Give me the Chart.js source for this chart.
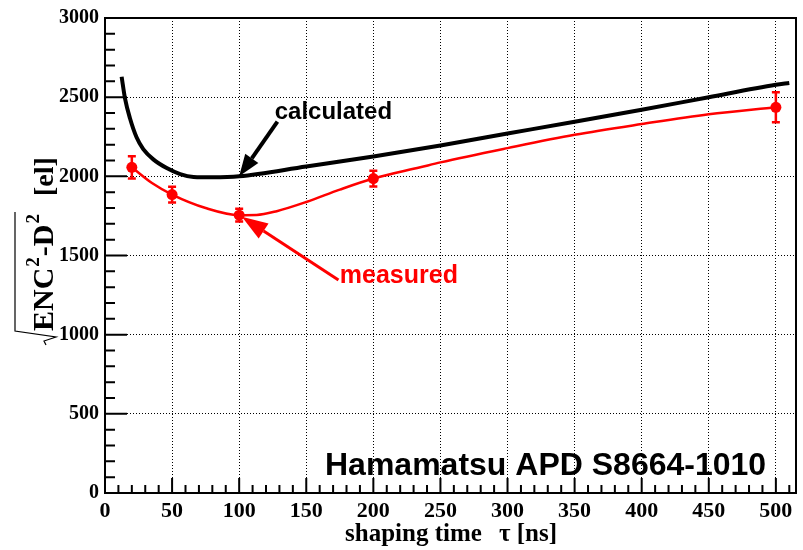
<!DOCTYPE html>
<html>
<head>
<meta charset="utf-8">
<title>ENC vs shaping time</title>
<script src="https://cdn.jsdelivr.net/npm/chart.js"></script>
<style>
  body { margin: 0; background: #fff; }
  canvas { display: block; }
</style>
</head>
<body>
<canvas id="enc-chart" width="803" height="550"></canvas>
<script>
// calculated curve (ns, electrons)
var calcX = [12.4, 14.9, 18.6, 23.6, 28.5, 36, 46, 56, 66, 80, 100, 150, 200, 250, 300, 350, 400, 450, 500, 510];
var calcY = [2629, 2492, 2367, 2245, 2172, 2107, 2052, 2014, 1996, 1994, 2000, 2062, 2125, 2195, 2270, 2345, 2420, 2500, 2578, 2590];

// measured points with errors
var measX = [20, 50, 100, 200, 500];
var measY = [2057, 1885, 1755, 1986, 2436];
var measErr = [70, 50, 40, 50, 95];

// smooth line drawn through the measured points
var trendX = [20, 35, 50, 75, 100, 113, 128, 150, 175, 200, 235, 250, 300, 350, 400, 450, 500];
var trendY = [2057, 1958, 1885, 1800, 1755, 1756, 1780, 1838, 1916, 1986, 2057, 2088, 2178, 2262, 2330, 2392, 2436];

var xTicks = [0, 50, 100, 150, 200, 250, 300, 350, 400, 450, 500];
var yTicks = [0, 500, 1000, 1500, 2000, 2500, 3000];

var serif = "'Liberation Serif', 'Times New Roman', serif";
var sans = "'Liberation Sans', Arial, Helvetica, sans-serif";

function toPoints(xs, ys) {
  var pts = [];
  for (var i = 0; i < xs.length; i++) pts.push({x: xs[i], y: ys[i]});
  return pts;
}

function arrow(ctx, x1, y1, x2, y2, len, half, color, width) {
  var a = Math.atan2(y2 - y1, x2 - x1);
  var bx = x2 - len * Math.cos(a), by = y2 - len * Math.sin(a);
  ctx.strokeStyle = color;
  ctx.fillStyle = color;
  ctx.lineWidth = width;
  ctx.beginPath();
  ctx.moveTo(x1, y1);
  ctx.lineTo(bx, by);
  ctx.stroke();
  ctx.beginPath();
  ctx.moveTo(x2, y2);
  ctx.lineTo(bx + half * Math.sin(a), by - half * Math.cos(a));
  ctx.lineTo(bx - half * Math.sin(a), by + half * Math.cos(a));
  ctx.closePath();
  ctx.fill();
}

// error bars on the measured set
var errorBars = {
  id: 'errorBars',
  afterDatasetsDraw: function(chart) {
    var ctx = chart.ctx, xs = chart.scales.x, ys = chart.scales.y;
    ctx.save();
    ctx.strokeStyle = '#ff0000';
    ctx.lineWidth = 2.5;
    for (var i = 0; i < measX.length; i++) {
      var px = xs.getPixelForValue(measX[i]);
      var top = ys.getPixelForValue(measY[i] + measErr[i]);
      var bot = ys.getPixelForValue(measY[i] - measErr[i]);
      ctx.beginPath();
      ctx.moveTo(px, top); ctx.lineTo(px, bot);
      ctx.moveTo(px - 4, top); ctx.lineTo(px + 4, top);
      ctx.moveTo(px - 4, bot); ctx.lineTo(px + 4, bot);
      ctx.stroke();
    }
    ctx.restore();
  }
};

// frame, inward ticks, axis titles and labels
var decorations = {
  id: 'decorations',
  afterDraw: function(chart) {
    var ctx = chart.ctx, a = chart.chartArea;
    var xs = chart.scales.x, ys = chart.scales.y;
    ctx.save();
    ctx.strokeStyle = '#000';
    ctx.lineWidth = 2;
    ctx.beginPath();
    ctx.moveTo(a.left, a.top); ctx.lineTo(a.right, a.top); ctx.lineTo(a.right, a.bottom);
    ctx.stroke();

    ctx.beginPath();
    for (var v = 0; v <= 3000; v += 100) {
      var py = ys.getPixelForValue(v);
      ctx.moveTo(a.left, py);
      ctx.lineTo(a.left + (v % 500 === 0 ? 22 : 10), py);
    }
    for (var u = 0; u <= 510; u += 10) {
      var px = xs.getPixelForValue(u);
      ctx.moveTo(px, a.bottom);
      ctx.lineTo(px, a.bottom - (u % 50 === 0 ? 15 : 8));
    }
    ctx.stroke();

    // x title
    ctx.fillStyle = '#000';
    ctx.font = 'bold 25px ' + serif;
    ctx.textAlign = 'left';
    ctx.textBaseline = 'alphabetic';
    ctx.fillText('shaping time', 345, 541);
    ctx.fillText('\u03c4 [ns]', 499, 541);

    // y title: sqrt(ENC^2-D^2) [el]
    ctx.save();
    ctx.translate(53, 331);
    ctx.rotate(-Math.PI / 2);
    var u0 = 0;
    ctx.font = 'bold 30px ' + serif;
    ctx.fillText('ENC', u0, 0); u0 += ctx.measureText('ENC').width + 1;
    ctx.font = 'bold 19px ' + serif;
    ctx.fillText('2', u0, -14); u0 += ctx.measureText('2').width + 1;
    ctx.font = 'bold 30px ' + serif;
    ctx.fillText('-D', u0, 0); u0 += ctx.measureText('-D').width + 1;
    ctx.font = 'bold 19px ' + serif;
    ctx.fillText('2', u0, -14); u0 += ctx.measureText('2').width + 2;
    ctx.lineWidth = 1.2;
    ctx.beginPath();
    ctx.moveTo(u0, -38);
    ctx.lineTo(0, -38);
    ctx.lineTo(-6, 3);
    ctx.lineTo(-10, -9);
    ctx.lineTo(-14, -7);
    ctx.stroke();
    ctx.font = 'bold 28px ' + serif;
    ctx.fillText('[el]', u0 + 16, 0);
    ctx.restore();

    // annotations
    arrow(ctx, xs.getPixelForValue(128.5), ys.getPixelForValue(2345),
      xs.getPixelForValue(100), ys.getPixelForValue(2000), 22, 8, '#000', 4);
    arrow(ctx, xs.getPixelForValue(174), ys.getPixelForValue(1345),
      xs.getPixelForValue(102), ys.getPixelForValue(1745), 26, 9, '#ff0000', 3);

    ctx.font = 'bold 24px ' + sans;
    ctx.fillStyle = '#000';
    ctx.fillText('calculated', xs.getPixelForValue(126.5), ys.getPixelForValue(2360));
    ctx.fillStyle = '#ff0000';
    ctx.font = 'bold 25px ' + sans;
    ctx.fillText('measured', xs.getPixelForValue(175), ys.getPixelForValue(1325));

    ctx.fillStyle = '#000';
    ctx.font = 'bold 32px ' + sans;
    ctx.fillText('Hamamatsu APD S8664-1010', 325, 475);
    ctx.restore();
  }
};

new Chart(document.getElementById('enc-chart'), {
  type: 'line',
  data: {
    datasets: [
      {
        label: 'calculated',
        data: toPoints(calcX, calcY),
        borderColor: '#000',
        borderWidth: 4,
        pointRadius: 0,
        cubicInterpolationMode: 'monotone',
        fill: false
      },
      {
        label: 'measured trend',
        data: toPoints(trendX, trendY),
        borderColor: '#ff0000',
        borderWidth: 2.5,
        pointRadius: 0,
        cubicInterpolationMode: 'monotone',
        fill: false
      },
      {
        label: 'measured',
        data: toPoints(measX, measY),
        showLine: false,
        borderColor: '#ff0000',
        backgroundColor: '#ff0000',
        pointRadius: 5.5,
        pointBorderWidth: 0
      }
    ]
  },
  options: {
    responsive: false,
    animation: false,
    devicePixelRatio: 1,
    layout: { padding: { left: 0, right: 7, top: 16, bottom: 0 } },
    plugins: { legend: { display: false }, tooltip: { enabled: false } },
    scales: {
      x: {
        type: 'linear',
        min: 0,
        max: 515,
        afterBuildTicks: function(scale) {
          scale.ticks = xTicks.map(function(v) { return {value: v}; });
        },
        afterFit: function(scale) { scale.height = 57; },
        grid: { color: '#000', lineWidth: 1, drawTicks: false },
        border: { color: '#000', width: 2, dash: [1, 2] },
        ticks: {
          color: '#000',
          padding: 5,
          maxRotation: 0,
          callback: function(v) { return String(v); },
          font: { family: serif, size: 22, weight: 'bold' }
        }
      },
      y: {
        type: 'linear',
        min: 0,
        max: 3000,
        afterBuildTicks: function(scale) {
          scale.ticks = yTicks.map(function(v) { return {value: v}; });
        },
        afterFit: function(scale) { scale.width = 105; },
        grid: { color: '#000', lineWidth: 1, drawTicks: false },
        border: { color: '#000', width: 2, dash: [1, 2] },
        ticks: {
          color: '#000',
          padding: 6,
          callback: function(v) { return String(v); },
          font: { family: serif, size: 20, weight: 'bold' }
        }
      }
    }
  },
  plugins: [errorBars, decorations]
});
</script>
</body>
</html>
